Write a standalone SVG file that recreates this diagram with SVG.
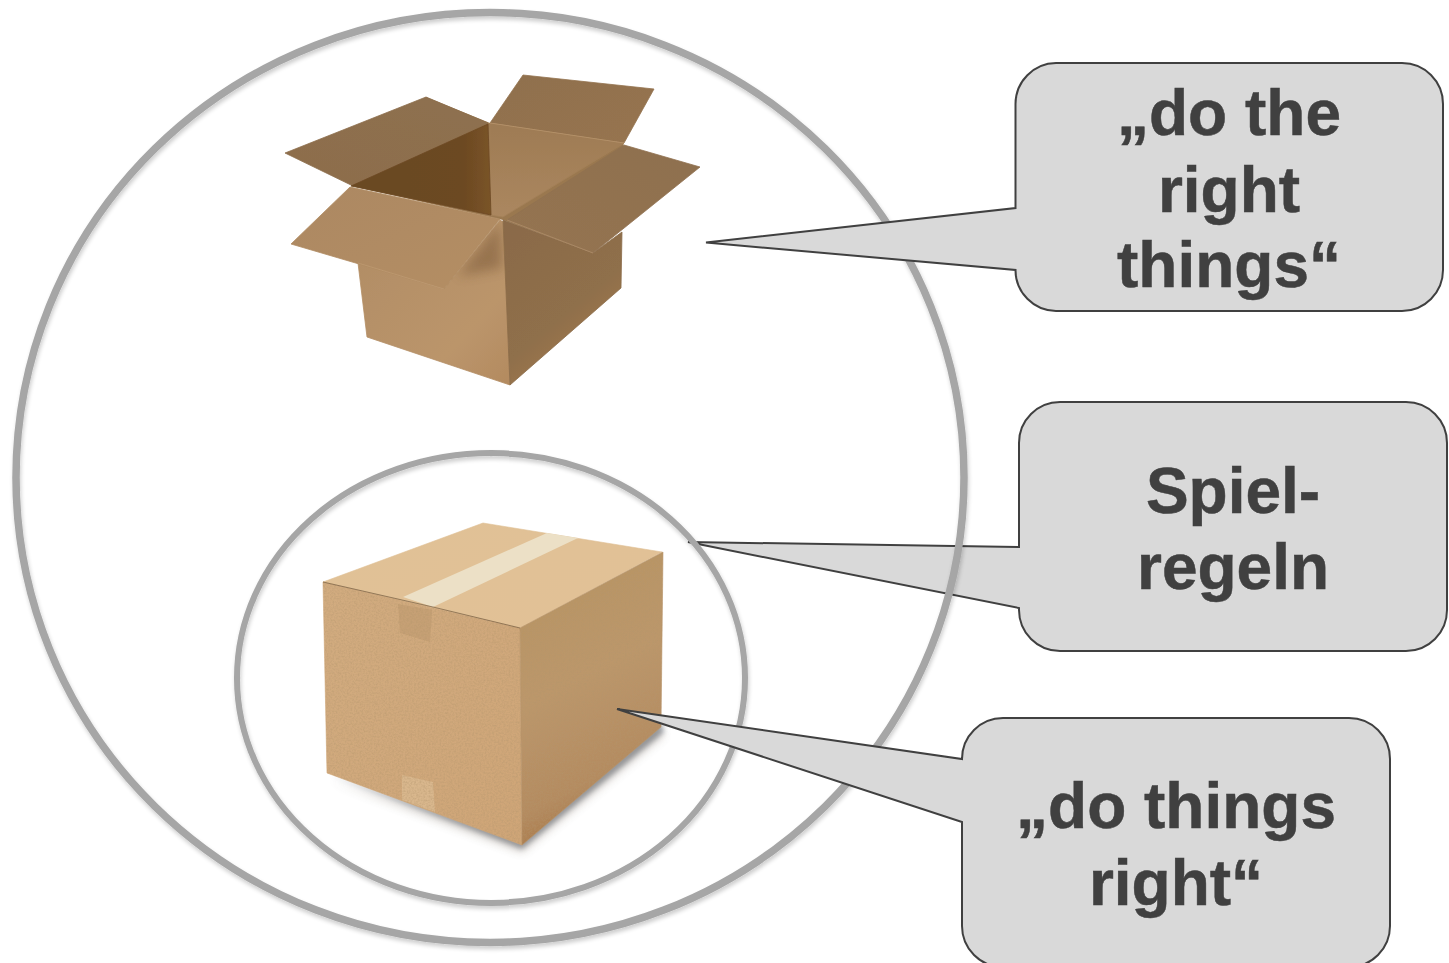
<svg xmlns="http://www.w3.org/2000/svg" width="1449" height="963" viewBox="0 0 1449 963">
<style>
.ring{fill:none;stroke:#a6a6a6;filter:url(#ringShadow)}
.callout{fill:#d9d9d9;stroke:#404040;stroke-width:2;stroke-linejoin:miter}
.label{font-family:"Liberation Sans",Arial,sans-serif;font-weight:700;font-size:64px;fill:#404040;stroke:#404040;stroke-width:.5;text-anchor:middle}
.crease{fill:none;stroke:#c8a57c;stroke-width:1;opacity:.45}
.dark{fill:none;stroke:#5a452e;stroke-width:1;opacity:.55}
</style>
<defs>
<filter id="ringShadow" x="-5%" y="-5%" width="110%" height="110%"><feGaussianBlur in="SourceAlpha" stdDeviation="2.2"/><feOffset dx="1" dy="2.500"/><feComponentTransfer><feFuncA type="linear" slope=".2"/></feComponentTransfer><feMerge><feMergeNode/><feMergeNode in="SourceGraphic"/></feMerge></filter>
<filter id="soft" x="-5%" y="-5%" width="110%" height="110%"><feGaussianBlur stdDeviation=".45"/></filter>
<filter id="blur6" x="-30%" y="-30%" width="160%" height="160%"><feGaussianBlur stdDeviation="5"/></filter>
<filter id="blur2" x="-30%" y="-30%" width="160%" height="160%"><feGaussianBlur stdDeviation="2.5"/></filter>
<filter id="blur8" x="-60%" y="-60%" width="220%" height="220%"><feGaussianBlur stdDeviation="6"/></filter>
<filter id="grain" x="0" y="0" width="100%" height="100%"><feTurbulence type="fractalNoise" baseFrequency=".55" numOctaves="2" seed="4"/><feColorMatrix type="matrix" values="0 0 0 0 .45 0 0 0 0 .3 0 0 0 0 .15 0 0 0 .9 -.32"/><feComposite in2="SourceAlpha" operator="in"/></filter>
<clipPath id="frontClip"><polygon points="358,263 444,289 500,220 505,223 510,385 367,337"/></clipPath>
<linearGradient id="backFlap" x1="0" y1="0" x2="1" y2="1"><stop offset="0" stop-color="#8f704e"/><stop offset="1" stop-color="#97744f"/></linearGradient>
<linearGradient id="leftFlap" x1="0" y1="1" x2="1" y2="0"><stop offset="0" stop-color="#8d6d4b"/><stop offset="1" stop-color="#8e7050"/></linearGradient>
<linearGradient id="innerLeft" x1="0" y1="0" x2="1" y2="0"><stop offset="0" stop-color="#6a4823"/><stop offset=".8" stop-color="#6c4922"/><stop offset="1" stop-color="#7a5428"/></linearGradient>
<linearGradient id="innerBack" x1="0" y1="0" x2="0" y2="1"><stop offset="0" stop-color="#9e7b54"/><stop offset="1" stop-color="#ab875f"/></linearGradient>
<linearGradient id="frontFlap" x1="0" y1="0" x2="1" y2="1"><stop offset="0" stop-color="#ac8862"/><stop offset="1" stop-color="#b48e64"/></linearGradient>
<linearGradient id="rightFlap" x1="1" y1="0" x2="0" y2="1"><stop offset="0" stop-color="#8e704f"/><stop offset="1" stop-color="#957451"/></linearGradient>
<linearGradient id="frontSide" x1="0" y1="0" x2="1" y2="1"><stop offset="0" stop-color="#b08c64"/><stop offset=".7" stop-color="#bb956b"/><stop offset="1" stop-color="#b38a5f"/></linearGradient>
<linearGradient id="rightSide" x1="0" y1="0" x2=".6" y2="1"><stop offset="0" stop-color="#8a6a48"/><stop offset=".65" stop-color="#8f6f4b"/><stop offset="1" stop-color="#a67c50"/></linearGradient>
<linearGradient id="closedTop" x1="0" y1="0" x2="1" y2="1"><stop offset="0" stop-color="#e0c196"/><stop offset="1" stop-color="#e2c196"/></linearGradient>
<linearGradient id="closedFront" x1="0" y1="0" x2="1" y2="1"><stop offset="0" stop-color="#d2ac80"/><stop offset="1" stop-color="#cfa577"/></linearGradient>
<linearGradient id="closedRight" x1="0" y1="0" x2=".25" y2="1"><stop offset="0" stop-color="#b6935f"/><stop offset=".5" stop-color="#bc976b"/><stop offset=".85" stop-color="#b48b60"/><stop offset="1" stop-color="#a87848"/></linearGradient>
</defs>
<rect width="1449" height="963" fill="#fff"/>

<g id="callout-spielregeln">
<path class="callout" d="M1060 402H1406A41 41 0 0 1 1447 443V610A41 41 0 0 1 1406 651H1060A41 41 0 0 1 1019 610V608L688 542L1019 547V443A41 41 0 0 1 1060 402Z"/>
<text class="label" x="1233" y="513">Spiel-</text>
<text class="label" x="1233" y="589">regeln</text>
</g>

<g id="open-box" filter="url(#soft)">
<polygon fill="#9a7850" points="490,123 624,143 593,253 503,220 351,186 426,97"/>
<polygon fill="url(#backFlap)" stroke="#93724e" stroke-width=".8" points="523,75 654,89 624,143 490,123"/>
<polygon fill="url(#innerBack)" stroke="#a38058" stroke-width=".8" points="490,123 624,143 503,217 490,215"/>
<polygon fill="url(#leftFlap)" stroke="#8d6e4d" stroke-width=".8" points="426,97 488,123 353,186 285,153"/>
<polygon fill="url(#innerLeft)" stroke="#6c4923" stroke-width=".8" points="488,124 491,215 351,186"/>
<polygon fill="url(#frontSide)" stroke="#b48e64" stroke-width=".8" points="358,263 444,289 500,220 505,223 510,385 367,337"/>
<g clip-path="url(#frontClip)"><polygon fill="#6a4a2c" opacity=".42" filter="url(#blur8)" points="458,276 500,222 502,268"/></g>
<polygon fill="url(#rightSide)" stroke="#8c6c49" stroke-width=".8" points="503,220 593,253 622,232 621,288 510,385"/>
<polygon fill="url(#frontFlap)" stroke="#b08b62" stroke-width=".8" points="350,187 500,219 444,289 291,244"/>
<polygon fill="url(#rightFlap)" stroke="#917150" stroke-width=".8" points="624,145 700,167 593,253 507,220"/>
<path class="crease" d="M358 263L444 289"/>
<path class="crease" d="M490 123L624 143M507 220L593 253"/>
</g>

<g id="closed-box">
<polygon fill="#5e6b7a" opacity=".55" filter="url(#blur2)" points="330,775 522,849 664,732 661,722 522,838"/>
<polygon fill="#6b5a4a" opacity=".3" filter="url(#blur6)" points="330,780 522,852 664,735 655,720 520,835"/>
<g filter="url(#soft)">
<polygon fill="url(#closedTop)" stroke="#dfc094" stroke-width=".6" points="323,582 483,523 662,552 520,628"/>
<polygon fill="#ece0c6" points="547,533 578,538 433,607 403,597"/>
<polygon fill="url(#closedFront)" stroke="#d0a87b" stroke-width=".6" points="323,582 520,628 522,845 327,773"/>
<polygon fill="url(#closedRight)" stroke="#b8936a" stroke-width=".6" points="520,628 663,552 661,727 522,845"/>
<polygon fill="#c6a074" points="398,604 432,610 430,642 400,633"/>
<polygon fill="#d9b78d" points="402,775 433,782 435,812 402,800"/>
<polygon fill="#000" filter="url(#grain)" points="323,582 520,628 522,845 327,773"/>
<polygon fill="#000" filter="url(#grain)" points="520,628 663,552 661,727 522,845"/>
<path class="dark" d="M323 582L433 607L520 628"/>
</g>
</g>

<g id="outer-circle"><ellipse class="ring" cx="490" cy="477.500" rx="474" ry="465" stroke-width="7.500"/></g>
<g id="inner-circle"><ellipse class="ring" cx="491" cy="678" rx="254" ry="225" stroke-width="6"/></g>

<g id="callout-do-the-right-things">
<path class="callout" d="M1056 63H1402A41 41 0 0 1 1443 104V270A41 41 0 0 1 1402 311H1056A41 41 0 0 1 1015.500 270L706 242.500L1015.500 208V104A41 41 0 0 1 1056 63Z"/>
<text class="label" x="1229" y="135">„do the</text>
<text class="label" x="1229" y="212">right</text>
<text class="label" x="1229" y="287">things“</text>
</g>

<g id="callout-do-things-right">
<path class="callout" d="M1003 718H1349A41 41 0 0 1 1390 759V926A41 41 0 0 1 1349 967H1003A41 41 0 0 1 962 926V822L617 709L962 759A41 41 0 0 1 1003 718Z"/>
<text class="label" x="1176" y="828">„do things</text>
<text class="label" x="1176" y="905">right“</text>
</g>
</svg>
